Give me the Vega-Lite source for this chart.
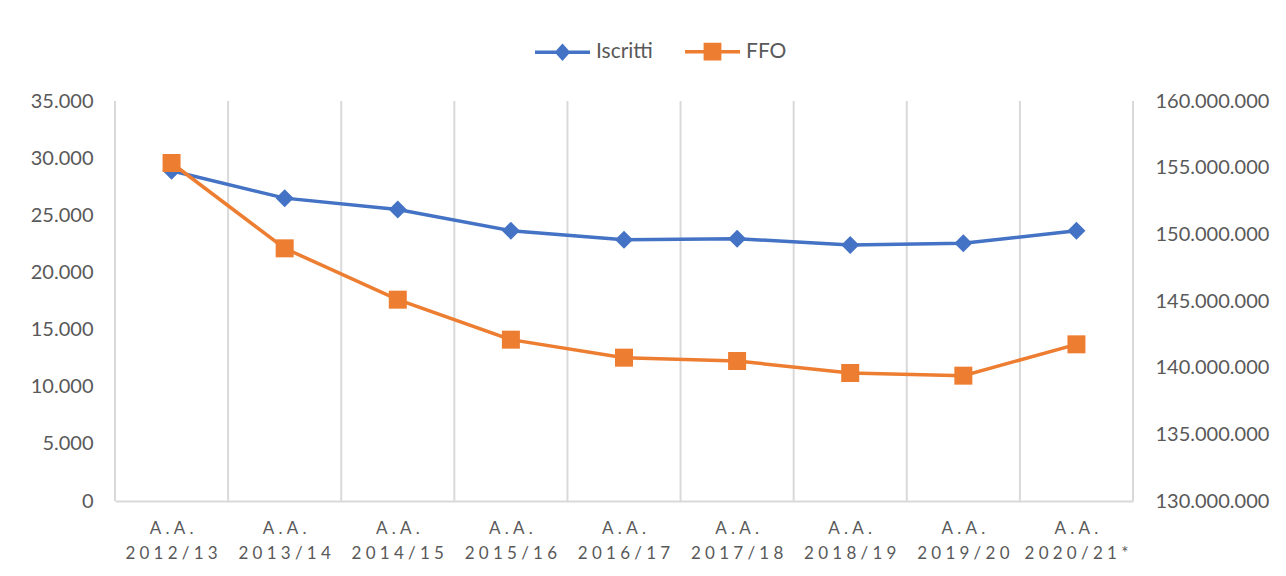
{
  "$schema": "https://vega.github.io/schema/vega-lite/v6.json",
  "width": 1018,
  "height": 400,
  "autosize": {"type": "none"},
  "padding": {"left": 115, "top": 101, "right": 153, "bottom": 75},
  "background": "white",
  "config": {"view": {"stroke": null}, "font": "Lato"},
  "data": {
    "values": [
      {"anno": "2012/13", "serie": "Iscritti", "valore": 28900},
      {"anno": "2013/14", "serie": "Iscritti", "valore": 26500},
      {"anno": "2014/15", "serie": "Iscritti", "valore": 25500},
      {"anno": "2015/16", "serie": "Iscritti", "valore": 23650},
      {"anno": "2016/17", "serie": "Iscritti", "valore": 22850},
      {"anno": "2017/18", "serie": "Iscritti", "valore": 22950},
      {"anno": "2018/19", "serie": "Iscritti", "valore": 22400},
      {"anno": "2019/20", "serie": "Iscritti", "valore": 22550},
      {"anno": "2020/21*", "serie": "Iscritti", "valore": 23650},
      {"anno": "2012/13", "serie": "FFO", "valore": 155350000},
      {"anno": "2013/14", "serie": "FFO", "valore": 148950000},
      {"anno": "2014/15", "serie": "FFO", "valore": 145100000},
      {"anno": "2015/16", "serie": "FFO", "valore": 142100000},
      {"anno": "2016/17", "serie": "FFO", "valore": 140750000},
      {"anno": "2017/18", "serie": "FFO", "valore": 140500000},
      {"anno": "2018/19", "serie": "FFO", "valore": 139600000},
      {"anno": "2019/20", "serie": "FFO", "valore": 139400000},
      {"anno": "2020/21*", "serie": "FFO", "valore": 141750000}
    ]
  },
  "layer": [
    {
      "transform": [{"filter": "datum.serie === 'Iscritti'"}],
      "mark": {"type": "rule", "color": "#d9d9d9", "strokeWidth": 2},
      "encoding": {
        "x": {
          "field": "anno",
          "type": "nominal",
          "sort": null,
          "bandPosition": 0,
          "scale": {"type": "band", "paddingInner": 0, "paddingOuter": 0},
          "axis": {
            "title": null,
            "ticks": false,
            "grid": false,
            "domainColor": "#d9d9d9",
            "domainWidth": 2,
            "labelAngle": 0,
            "labelFont": "Lato",
            "labelFontSize": 17,
            "labelColor": "#595959",
            "labelPadding": 19,
            "labelLineHeight": 25,
            "labelExpr": "[replace('A.A.', regexp('(.)(?=.)', 'g'), '$1\u2005'), replace(datum.label, regexp('(.)(?=.)', 'g'), '$1\u2005')]"
          }
        }
      }
    },
    {
      "transform": [{"filter": "datum.serie === 'Iscritti' && datum.anno === '2020/21*'"}],
      "mark": {"type": "rule", "color": "#d9d9d9", "strokeWidth": 2},
      "encoding": {"x": {"field": "anno", "type": "nominal", "sort": null, "bandPosition": 1}}
    },
    {
      "transform": [{"filter": "datum.serie === 'Iscritti'"}],
      "encoding": {
        "x": {"field": "anno", "type": "nominal", "sort": null},
        "y": {
          "field": "valore",
          "type": "quantitative",
          "scale": {"domain": [0, 35000]},
          "axis": {
            "title": null,
            "orient": "left",
            "values": [0, 5000, 10000, 15000, 20000, 25000, 30000, 35000],
            "domain": false,
            "ticks": false,
            "grid": false,
            "labelFont": "Lato",
            "labelFontSize": 20,
            "labelColor": "#595959",
            "labelPadding": 22,
            "labelExpr": "replace(format(datum.value, ','), regexp(',', 'g'), '.')"
          }
        }
      },
      "layer": [
        {
          "mark": {"type": "line", "strokeWidth": 3.5},
          "encoding": {
            "color": {
              "field": "serie",
              "type": "nominal",
              "scale": {"domain": ["Iscritti", "FFO"], "range": ["#4472C4", "#ED7D31"]},
              "legend": {
                "title": null,
                "orient": "none",
                "direction": "horizontal",
                "legendX": 418,
                "legendY": -79,
                "symbolSize": 3025,
                "symbolStrokeWidth": 3.5,
                "labelFont": "Lato",
                "labelFontSize": 21,
                "labelColor": "#595959",
                "labelOffset": 4,
                "columnPadding": 25,
                "encode": {
                  "symbols": {
                    "update": {
                      "shape": [
                        {"test": "datum.value === 'Iscritti'", "value": "M-1,0H1M-0.2,0L0,-0.22L0.2,0L0,0.22Z"},
                        {"value": "M-1,0H1M-0.26,-0.26H0.26V0.26H-0.26Z"}
                      ],
                      "fill": {"scale": "color", "field": "value"},
                      "stroke": {"scale": "color", "field": "value"}
                    }
                  }
                }
              }
            }
          }
        },
        {
          "mark": {"type": "point", "shape": "diamond", "filled": true, "size": 324, "opacity": 1, "color": "#4472C4"}
        }
      ]
    },
    {
      "transform": [{"filter": "datum.serie === 'FFO'"}],
      "encoding": {
        "x": {"field": "anno", "type": "nominal", "sort": null},
        "y": {
          "field": "valore",
          "type": "quantitative",
          "scale": {"domain": [130000000, 160000000]},
          "axis": {
            "title": null,
            "orient": "right",
            "values": [130000000, 135000000, 140000000, 145000000, 150000000, 155000000, 160000000],
            "domain": false,
            "ticks": false,
            "grid": false,
            "labelFont": "Lato",
            "labelFontSize": 20,
            "labelColor": "#595959",
            "labelPadding": 22,
            "labelExpr": "replace(format(datum.value, ','), regexp(',', 'g'), '.')"
          }
        }
      },
      "layer": [
        {
          "mark": {"type": "line", "strokeWidth": 3.5},
          "encoding": {"color": {"field": "serie", "type": "nominal"}}
        },
        {
          "mark": {"type": "point", "shape": "square", "filled": true, "size": 324, "opacity": 1, "color": "#ED7D31"}
        }
      ]
    }
  ],
  "resolve": {"scale": {"y": "independent"}}
}
